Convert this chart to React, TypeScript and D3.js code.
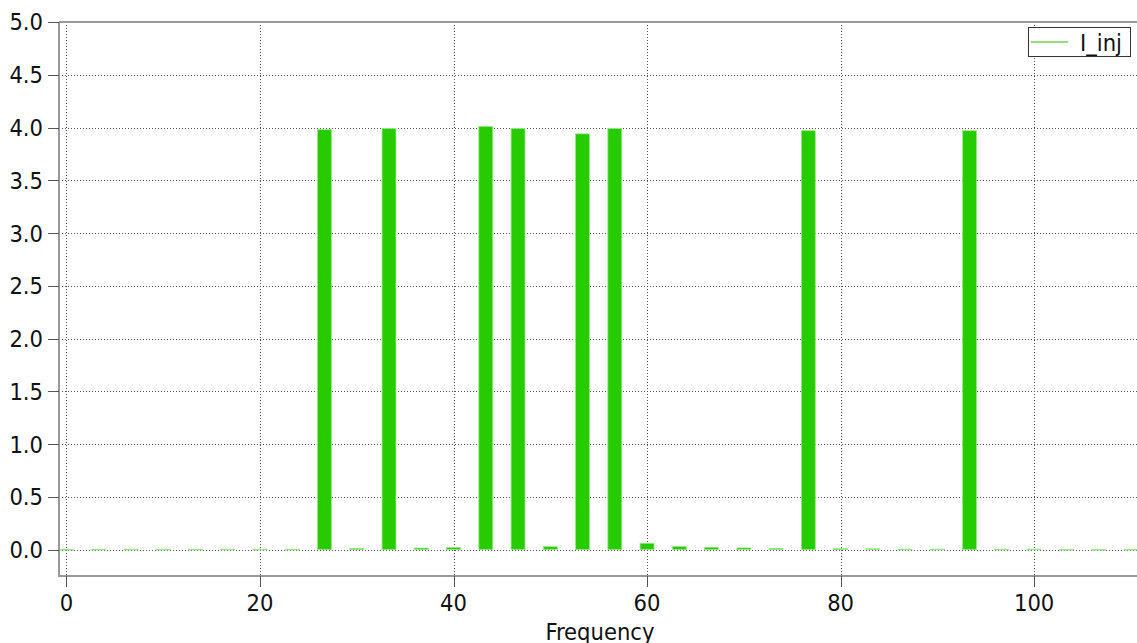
import React from "react";
import * as d3 from "d3";

const frequencies: number[] = [
  0, 3.333, 6.667, 10, 13.333, 16.667, 20, 23.333, 26.667, 30, 33.333, 36.667,
  40, 43.333, 46.667, 50, 53.333, 56.667, 60, 63.333, 66.667, 70, 73.333,
  76.667, 80, 83.333, 86.667, 90, 93.333, 96.667, 100, 103.333, 106.667, 110,
];
const iInj: number[] = [
  0.003, 0.004, 0.004, 0.004, 0.004, 0.004, 0.004, 0.004, 3.98, 0.012, 3.99,
  0.015, 0.02, 4.01, 3.99, 0.028, 3.94, 3.99, 0.06, 0.03, 0.022, 0.016, 0.012,
  3.97, 0.01, 0.008, 0.005, 0.005, 3.97, 0.005, 0.005, 0.003, 0.003, 0.003,
];
const xTicks: number[] = [0, 20, 40, 60, 80, 100];
const yTicks: number[] = [0, 0.5, 1, 1.5, 2, 2.5, 3, 3.5, 4, 4.5, 5];
const seriesName = "I_inj";
const xLabel = "Frequency";

const W = 1137;
const H = 643;
const left = 59;
const right = 1137;
const top = 22;
const bottom = 576;
const barHalf = 0.72;
const FONT = "'DejaVu Sans Condensed', 'DejaVu Sans', sans-serif";
const FS = 23.5;
const GREEN = "#27cc00";

export default function App() {
  const x = d3.scaleLinear().domain([-0.77, 110.63]).range([left, right]);
  const y = d3.scaleLinear().domain([-0.25, 5.0]).range([bottom, top]);
  const data = frequencies.map((f, i) => ({ f, v: iInj[i] }));

  return (
    <svg
      width={W}
      height={H}
      style={{ position: "absolute", left: 0, top: 0, background: "#fff" }}
      fontFamily={FONT}
    >
      <defs>
        <clipPath id="plot">
          <rect x={left} y={top} width={right - left} height={bottom - top} />
        </clipPath>
      </defs>
      <rect x={0} y={0} width={W} height={H} fill="#fff" />
      {/* grid */}
      <g stroke="#555" strokeWidth={1} strokeDasharray="1,2" fill="none">
        {yTicks.map((t) => (
          <line key={"gy" + t} x1={left} x2={right} y1={Math.round(y(t)) + 0.5} y2={Math.round(y(t)) + 0.5} />
        ))}
        {xTicks.map((t) => (
          <line key={"gx" + t} x1={Math.round(x(t)) + 0.5} x2={Math.round(x(t)) + 0.5} y1={top} y2={bottom} />
        ))}
      </g>
      {/* bars */}
      <g clipPath="url(#plot)">
        {data.map((d) => {
          const x0 = x(d.f - barHalf);
          const x1 = x(d.f + barHalf);
          const yTop = y(d.v);
          const y0 = y(0);
          return (
            <rect
              key={"b" + d.f}
              x={x0}
              y={yTop}
              width={x1 - x0}
              height={Math.max(0.8, y0 - yTop)}
              fill={GREEN}
              stroke="#9be58a"
              strokeWidth={0.8}
            />
          );
        })}
      </g>
      {/* frame */}
      <g stroke="#999" strokeWidth={2} fill="none">
        <line x1={left} x2={left} y1={top} y2={bottom + 1} />
        <line x1={left - 1} x2={right} y1={bottom} y2={bottom} />
        <line x1={left} x2={right} y1={top} y2={top} />
      </g>
      {/* y ticks */}
      <g>
        {yTicks.map((t) => (
          <g key={"ty" + t}>
            <line x1={48} x2={left} y1={Math.round(y(t)) + 0.5} y2={Math.round(y(t)) + 0.5} stroke="#555" strokeWidth={1} />
            <text x={43} y={y(t)} dy="0.36em" textAnchor="end" fontSize={FS} fill="#111">
              {t.toFixed(1)}
            </text>
          </g>
        ))}
      </g>
      {/* x ticks */}
      <g>
        {xTicks.map((t) => (
          <g key={"tx" + t}>
            <line x1={Math.round(x(t)) + 0.5} x2={Math.round(x(t)) + 0.5} y1={bottom} y2={587} stroke="#555" strokeWidth={1} />
            <text x={x(t)} y={611} textAnchor="middle" fontSize={FS} fill="#111">
              {String(t)}
            </text>
          </g>
        ))}
      </g>
      <text x={(left + right) / 2 + 2} y={640} textAnchor="middle" fontSize={FS} fill="#111">
        {xLabel}
      </text>
      {/* legend */}
      <g>
        <rect x={1028.5} y={27.5} width={102} height={29} fill="#fff" stroke="#333" strokeWidth={1} />
        <line x1={1031} x2={1068} y1={42} y2={42} stroke="#6ad94a" strokeWidth={1.5} />
        <text x={1080} y={51} fontSize={FS} fill="#111">
          {seriesName}
        </text>
      </g>
    </svg>
  );
}
